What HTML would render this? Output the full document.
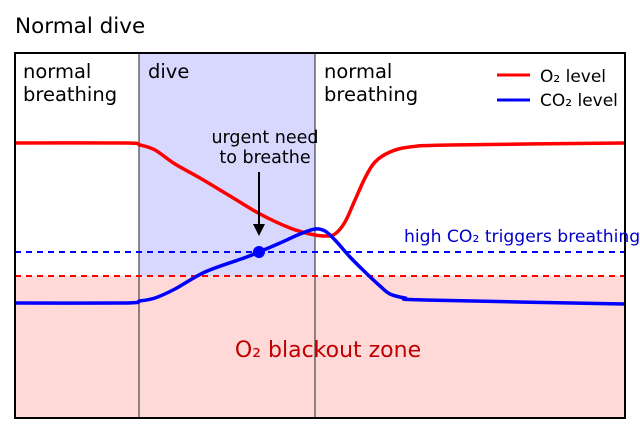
<!DOCTYPE html>
<html><head><meta charset="utf-8"><style>
body{margin:0;background:#fff;}
svg{display:block;font-family:"DejaVu Sans","Liberation Sans",sans-serif;}
</style></head><body>
<svg id="chart" width="640" height="436" viewBox="0 0 640 436">
<text x="15" y="33" font-size="21.5" fill="#000">Normal dive</text>
<rect x="139" y="53" width="176" height="223" fill="#d8d8ff"/>
<rect x="15" y="276" width="610" height="142" fill="#ffd8d8"/>
<line x1="139" y1="53" x2="139" y2="418" stroke="#222" stroke-width="1"/>
<line x1="315" y1="53" x2="315" y2="418" stroke="#222" stroke-width="1"/>
<g id="marks"></g>
<rect x="15" y="53" width="610" height="365" fill="none" stroke="#000" stroke-width="2"/>
<text x="23" y="78" font-size="19.5">normal</text>
<text x="23" y="101" font-size="19.5">breathing</text>
<text x="148" y="78" font-size="19.5">dive</text>
<text x="324" y="78" font-size="19.5">normal</text>
<text x="324" y="101" font-size="19.5">breathing</text>
<text x="265" y="143" font-size="17.5" text-anchor="middle">urgent need</text>
<text x="265" y="163" font-size="17.5" text-anchor="middle">to breathe</text>
<line x1="259" y1="172" x2="259" y2="228" stroke="#000" stroke-width="2"/>
<polygon points="253,224 265,224 259,236" fill="#000"/>
<text x="404" y="242" font-size="17.2" fill="#0000cc">high CO₂ triggers breathing</text>
<text x="328" y="357" font-size="22" fill="#c00000" text-anchor="middle">O₂ blackout zone</text>
<line x1="497" y1="75" x2="530" y2="75" stroke="#f00" stroke-width="3"/>
<text x="540" y="82" font-size="17">O₂ level</text>
<line x1="497" y1="100" x2="530" y2="100" stroke="#00f" stroke-width="3"/>
<text x="540" y="106" font-size="17">CO₂ level</text>
</svg>
<script>
const o2Times=[0,110,125,140,160,185,215,245,275,295,310,320,330,340,350,360,375,395,435,610];
const o2Levels=[275,275,273,268,254,240,222,204,190,184,182,184,196,218,240,256,266,271,273,275];
const co2Times=[0,110,125,140,160,190,229,244,265,285,300,310,320,335,350,365,375,390,410,610];
const co2Levels=[115,115,117,120,129,146,160,166,175,184,189,187,178,161,146,132,124,120,118,114];
const co2Threshold=166;
const o2Threshold=142;
const triggerTime=244;
const xs=t=>15+t;
const ys=v=>418-v;
const g=document.getElementById('marks');
const NS='http://www.w3.org/2000/svg';
function smoothPath(ts,vs){
  const p=ts.map((t,i)=>[xs(t),ys(vs[i])]);
  let d='M'+p[0][0]+','+p[0][1];
  for(let i=0;i<p.length-1;i++){
    const p0=p[i-1]||p[i],p1=p[i],p2=p[i+1],p3=p[i+2]||p2;
    const c1=[p1[0]+(p2[0]-p0[0])/6,p1[1]+(p2[1]-p0[1])/6];
    const c2=[p2[0]-(p3[0]-p1[0])/6,p2[1]-(p3[1]-p1[1])/6];
    d+=' C'+c1+' '+c2+' '+p2;
  }
  return d;
}
const l1=document.createElementNS(NS,'line');
l1.setAttribute('x1',15);l1.setAttribute('x2',625);
l1.setAttribute('y1',ys(co2Threshold));l1.setAttribute('y2',ys(co2Threshold));
l1.setAttribute('stroke','#00f');l1.setAttribute('stroke-width','2');l1.setAttribute('stroke-dasharray','6,5');


g.appendChild(l1);
const l2=document.createElementNS(NS,'line');
l2.setAttribute('x1',15);l2.setAttribute('x2',625);
l2.setAttribute('y1',ys(o2Threshold));l2.setAttribute('y2',ys(o2Threshold));
l2.setAttribute('stroke','#f00');l2.setAttribute('stroke-width','2');l2.setAttribute('stroke-dasharray','6,5');


g.appendChild(l2);
const a=document.createElementNS(NS,'path');
a.setAttribute('d',smoothPath(o2Times,o2Levels));
a.setAttribute('fill','none');a.setAttribute('stroke','#f00');a.setAttribute('stroke-width','3.5');


g.appendChild(a);
const b=document.createElementNS(NS,'path');
b.setAttribute('d',smoothPath(co2Times,co2Levels));
b.setAttribute('fill','none');b.setAttribute('stroke','#00f');b.setAttribute('stroke-width','3.5');


g.appendChild(b);
const c=document.createElementNS(NS,'circle');
c.setAttribute('cx',xs(triggerTime));c.setAttribute('cy',ys(co2Threshold));c.setAttribute('r',6);c.setAttribute('fill','#00f');


g.appendChild(c);
</script>
</body></html>
